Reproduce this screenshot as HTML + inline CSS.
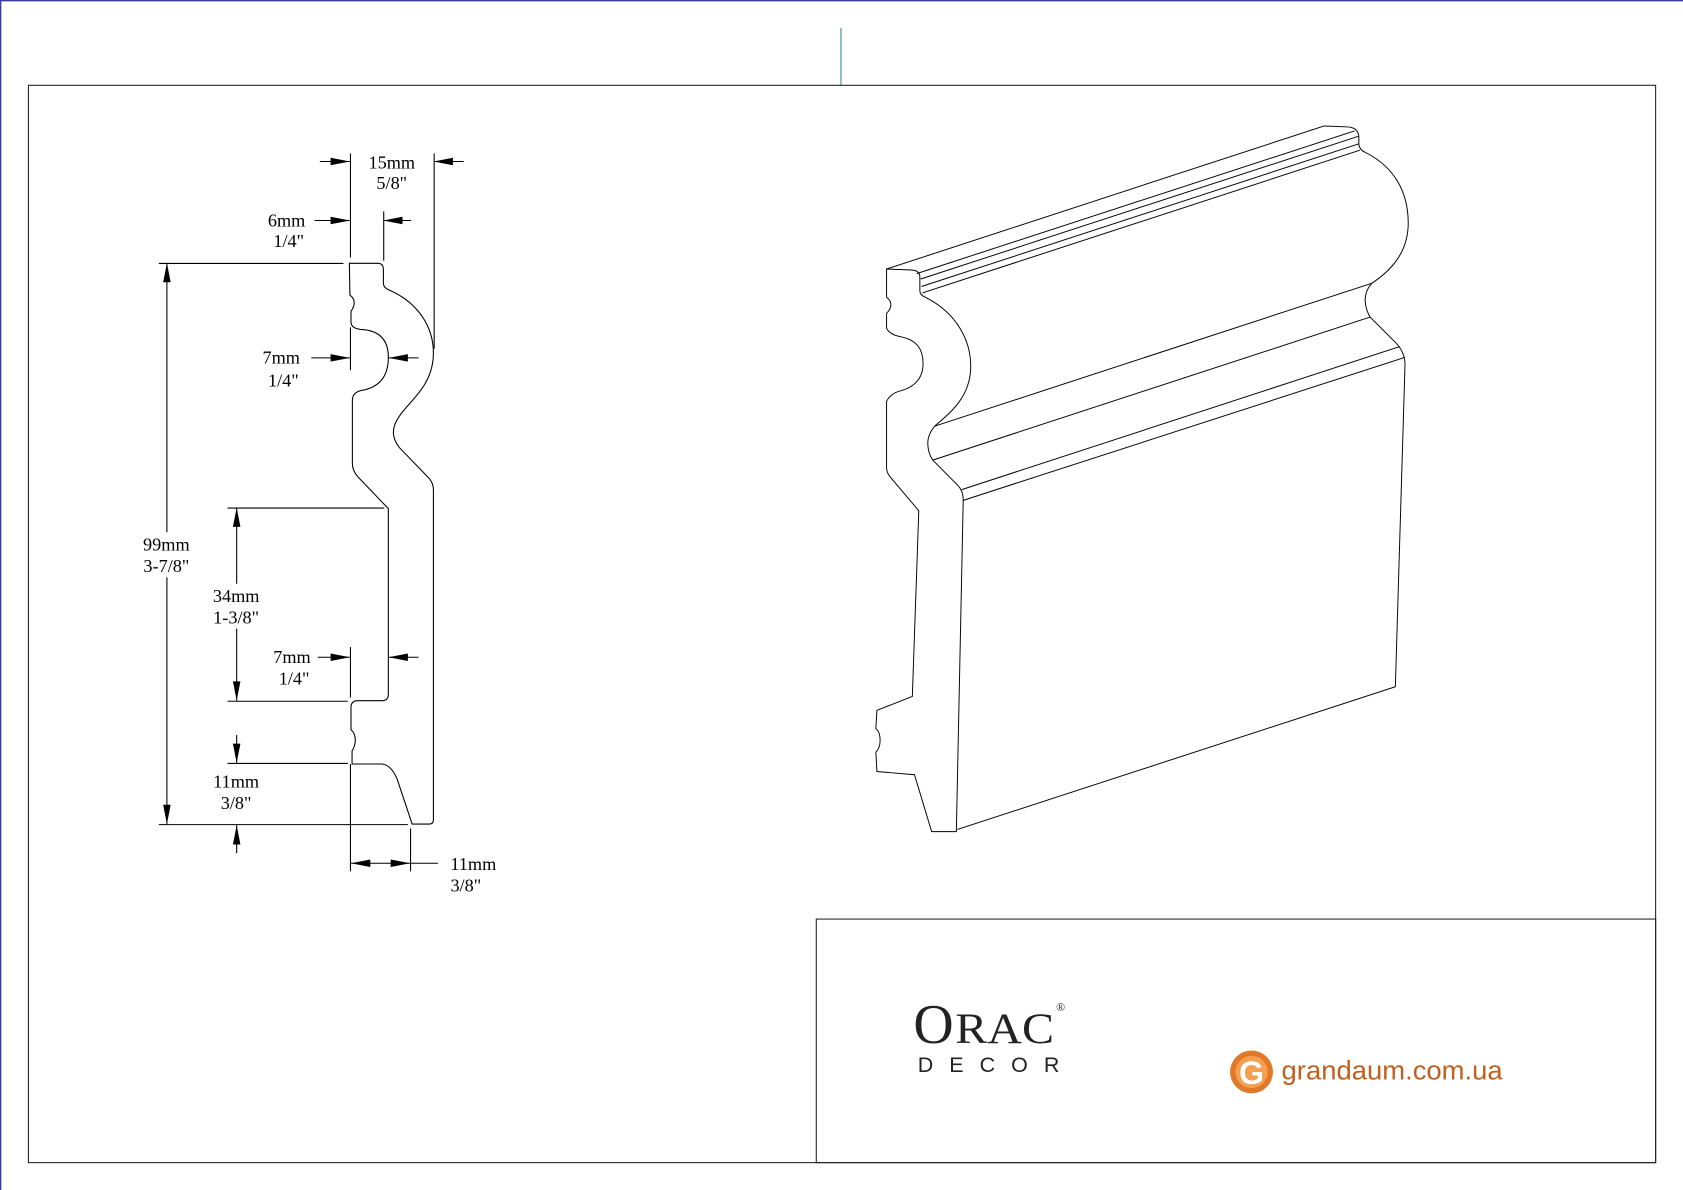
<!DOCTYPE html>
<html><head><meta charset="utf-8"><style>
html,body{margin:0;padding:0;background:#fff;}
svg{display:block;}
text{font-family:"Liberation Serif",serif;font-size:17px;fill:#000;}
</style></head><body>
<svg width="1683" height="1190" viewBox="0 0 1568 1109" preserveAspectRatio="none" xmlns="http://www.w3.org/2000/svg">
<rect x="0" y="0" width="1568" height="1109" fill="#fff"/>
<line x1="0.5" y1="0" x2="0.5" y2="1109" stroke="#3a3aa0" stroke-width="1.5"/>
<line x1="0" y1="0.5" x2="1568" y2="0.5" stroke="#3a3aa0" stroke-width="1.5"/>
<line x1="783.5" y1="26" x2="783.5" y2="79" stroke="#3a8a8a" stroke-width="1"/>
<rect x="26.5" y="79.5" width="1516" height="1004" fill="none" stroke="#222" stroke-width="1"/>
<rect x="760.5" y="856.5" width="782" height="227" fill="none" stroke="#222" stroke-width="1"/>

<g fill="none" stroke="#000" stroke-width="1">
<path d="M325.5,245.4 L352,245.4 Q357.2,245.4 357.2,251 L357.2,264 Q357.2,268 362,270 C390,282 403.8,305 403.8,329 C403.8,360 380,375 372,388 Q366.5,396 366.5,403 Q366.5,410 372,417 L400,446 Q403.8,451 403.8,456 L403.8,764 Q403.8,768 400,768 L384,768 L370,726 Q364,712 355,712 L328,712 L328,700 Q331,695 331,690 Q331,683 327,680 L327,658 Q328,653 333,653 L356,653 Q361.8,653 361.8,647 L361.8,474 L334,445 Q328.3,439 328.3,432 L328.3,373 Q328.3,366 336,364 Q361.8,360 361.8,333 Q361.8,308 336,307 Q327,306 327,300 L327,290 Q330,286 330,282 Q330,278 326,275 Z"/>
<line x1="148" y1="245.5" x2="320" y2="245.5"/>
<line x1="148" y1="768.5" x2="380" y2="768.5"/>
<line x1="212" y1="473.5" x2="358" y2="473.5"/>
<line x1="212" y1="653.5" x2="324" y2="653.5"/>
<line x1="212" y1="711.5" x2="324" y2="711.5"/>
<line x1="155.5" y1="245" x2="155.5" y2="768"/>
<line x1="220.5" y1="473" x2="220.5" y2="653"/>
<line x1="220.5" y1="685" x2="220.5" y2="711"/>
<line x1="220.5" y1="769" x2="220.5" y2="795"/>
<line x1="326.5" y1="143" x2="326.5" y2="240"/>
<line x1="404.5" y1="143" x2="404.5" y2="325"/>
<line x1="357.5" y1="197" x2="357.5" y2="243"/>
<line x1="326.5" y1="305" x2="326.5" y2="345"/>
<line x1="326.5" y1="603" x2="326.5" y2="650"/>
<line x1="326.5" y1="712" x2="326.5" y2="812"/>
<line x1="382.5" y1="772" x2="382.5" y2="812"/>
<line x1="298" y1="150.5" x2="326" y2="150.5"/>
<line x1="404" y1="150.5" x2="432" y2="150.5"/>
<line x1="293" y1="205.5" x2="326" y2="205.5"/>
<line x1="357" y1="205.5" x2="383" y2="205.5"/>
<line x1="290" y1="333.5" x2="326" y2="333.5"/>
<line x1="362" y1="333.5" x2="390" y2="333.5"/>
<line x1="296" y1="612.5" x2="326" y2="612.5"/>
<line x1="362" y1="612.5" x2="390" y2="612.5"/>
<line x1="326" y1="804.5" x2="408" y2="804.5"/>
</g>
<g fill="#000">
<polygon points="155.5,245 152,263 159,263"/>
<polygon points="155.5,768 152,750 159,750"/>
<polygon points="220.5,473 217,491 224,491"/>
<polygon points="220.5,653 217,635 224,635"/>
<polygon points="220.5,711 217,693 224,693"/>
<polygon points="220.5,769 217,787 224,787"/>
<polygon points="326,150.5 308,147 308,154"/>
<polygon points="404,150.5 422,147 422,154"/>
<polygon points="326,205.5 308,202 308,209"/>
<polygon points="357,205.5 375,202 375,209"/>
<polygon points="326,333.5 308,330 308,337"/>
<polygon points="362,333.5 380,330 380,337"/>
<polygon points="326,612.5 308,609 308,616"/>
<polygon points="362,612.5 380,609 380,616"/>
<polygon points="327,804.5 345,801 345,808"/>
<polygon points="382,804.5 364,801 364,808"/>
</g>
<g fill="#fff">
<rect x="128" y="496" width="54" height="42"/>
<rect x="192" y="544" width="56" height="42"/>
</g>
<g text-anchor="middle">
<text x="365" y="157">15mm</text><text x="365" y="176">5/8"</text>
<text x="267" y="211">6mm</text><text x="269" y="230">1/4"</text>
<text x="262" y="339">7mm</text><text x="264" y="360">1/4"</text>
<text x="155" y="513">99mm</text><text x="155" y="533">3-7/8"</text>
<text x="220" y="561">34mm</text><text x="220" y="581">1-3/8"</text>
<text x="272" y="618">7mm</text><text x="274" y="638">1/4"</text>
<text x="220" y="734">11mm</text><text x="220" y="754">3/8"</text>
<text x="441" y="811">11mm</text><text x="434" y="831">3/8"</text>
</g>

<g fill="none" stroke="#000" stroke-width="0.9">
<path d="M826,250.7 L849,251.6 Q857,252 857,258 L857,271 Q857,275 862,277 C892,292 904.4,318 904.4,341.3 C904.4,370 885,385 872,396 Q864.4,404 864.4,413 Q864.4,422 869,428.8 L893,453 Q897.4,458 897.4,466 L891,775 L868,775 L852,722 L817,719 L816,701 Q820,697 820,690 Q820,682 816,679 L817,662 L850,649 L856,476 L829,444 Q826,440 826,436 L826,374 Q830,366 840,364 Q860,358 860,338.5 Q860,318 840,314 Q829,312 826,306 L826,292 Q830,288 830,284 Q830,280 826,277 Z"/>
<path d="M1233.6,117.4 L1256,118.3 Q1265,119 1266,127 L1266,135 Q1267,140 1272,142 C1300,156 1312,180 1312,208 C1312,236 1295,253 1278,264 Q1271,272 1272,282 Q1273,290 1276.5,295.5 L1300,319 Q1309,328 1309,340 L1300,640 L892,773"/>
<line x1="826" y1="250.7" x2="1233.6" y2="117.4"/>
<line x1="854" y1="255" x2="1262" y2="122"/>
<line x1="857.8" y1="260" x2="1265.5" y2="127"/>
<line x1="858.5" y1="267" x2="1266" y2="134"/>
<line x1="859.3" y1="273" x2="1267" y2="140"/>
<line x1="870.4" y1="397.3" x2="1278" y2="264"/>
<line x1="869" y1="428.8" x2="1276.5" y2="295.5"/>
<line x1="896" y1="456.3" x2="1304" y2="323"/>
<line x1="897.4" y1="466.3" x2="1309" y2="333"/>
</g>

<text x="851" y="972" style="font-size:52px;fill:#222;">O</text>
<text x="890" y="972" style="font-size:40px;fill:#222;" textLength="92" lengthAdjust="spacingAndGlyphs">RAC</text>
<text x="984" y="942" style="font-size:11px;fill:#222;">®</text>
<text x="855" y="999" style="font-family:'Liberation Sans',sans-serif;font-size:20px;fill:#222;" textLength="132" lengthAdjust="spacing">DECOR</text>
<circle cx="1166" cy="999" r="20" fill="#e07a2a"/>
<circle cx="1166" cy="999" r="15" fill="#f4a050"/>
<text x="1166" y="1010" text-anchor="middle" style="font-family:'Liberation Sans',sans-serif;font-size:30px;font-weight:bold;fill:#fff;">G</text>
<text x="1194" y="1006" style="font-family:'Liberation Sans',sans-serif;font-size:25px;fill:#c0601e;" textLength="206" lengthAdjust="spacingAndGlyphs">grandaum.com.ua</text>
</svg>
</body></html>
